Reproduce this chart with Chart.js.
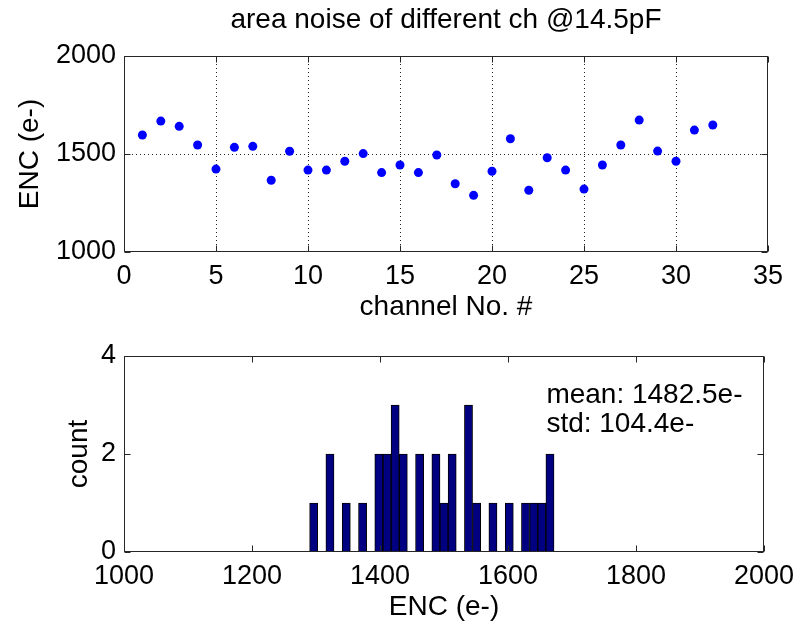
<!DOCTYPE html>
<html>
<head>
<meta charset="utf-8">
<script src="https://cdn.jsdelivr.net/npm/chart.js@4.4.1/dist/chart.umd.min.js"></script>
<style>
  body { margin: 0; background: #fff; }
  #wrap { position: relative; width: 802px; height: 621px; }
  canvas { position: absolute; left: 0; }
</style>
</head>
<body>
<div id="wrap">
  <canvas id="scatterChart" width="802" height="330" style="top:0"></canvas>
  <canvas id="histChart" width="802" height="291" style="top:330px"></canvas>
</div>
<script>
// top plot: noise per channel
const channels = [1, 2, 3, 4, 5, 6, 7, 8, 9, 10, 11, 12, 13, 14, 15, 16,
                  17, 18, 19, 20, 21, 22, 23, 24, 25, 26, 27, 28, 29, 30, 31, 32];
const encValues = [1597, 1668, 1641, 1546, 1423, 1534, 1539, 1366, 1514, 1418, 1418, 1463, 1502, 1405, 1444, 1405,
                   1495, 1348, 1289, 1412, 1578, 1315, 1481, 1418, 1321, 1444, 1546, 1673, 1515, 1463, 1622, 1648];

// bottom plot: histogram (30 bins)
const binCenters = [1296.4, 1309.1, 1321.8, 1334.6, 1347.3, 1360.0, 1372.8, 1385.5, 1398.2, 1411.0,
                    1423.7, 1436.4, 1449.2, 1461.9, 1474.6, 1487.4, 1500.1, 1512.8, 1525.6, 1538.3,
                    1551.0, 1563.8, 1576.5, 1589.2, 1602.0, 1614.7, 1627.4, 1640.2, 1652.9, 1665.6];
const binCounts = [1, 0, 2, 0, 1, 0, 1, 0, 2, 2, 3, 2, 0, 2, 0, 2, 1, 2, 0, 3, 1, 0, 1, 0, 1, 0, 1, 1, 1, 2];

const titleText = 'area noise of different ch @14.5pF';
const statLines = ['mean: 1482.5e-', 'std: 104.4e-'];
const statX = 1660;
const statY = [3.04, 2.45];

const FONT = "'Liberation Sans', Arial, sans-serif";
const tickFont = { family: FONT, size: 27 };
const labelFont = { family: FONT, size: 28, lineHeight: 1 };
const plain = v => String(v); // no thousands separator

// dotted grid, but leave the outer edges to the solid frame
const innerGrid = ctx => {
  const s = ctx.scale, v = ctx.tick && ctx.tick.value;
  return (v === s.min || v === s.max) ? 'rgba(0,0,0,0)' : 'rgba(0,0,0,0.85)';
};

// box around the axes + MATLAB style inward tick marks
const frame = {
  id: 'frame',
  afterDatasetsDraw(chart) {
    const { ctx, chartArea: a, scales: { x, y } } = chart;
    const L = Math.round(a.left) + 0.5, R = Math.round(a.right) - 0.5;
    const T = Math.round(a.top) + 0.5, B = Math.round(a.bottom) - 0.5;
    ctx.save();
    ctx.setLineDash([]);
    ctx.strokeStyle = '#262626';
    ctx.lineWidth = 1;
    ctx.strokeRect(L, T, R - L, B - T);
    ctx.beginPath();
    x.ticks.forEach(t => {
      const px = Math.round(x.getPixelForValue(t.value)) + 0.5;
      ctx.moveTo(px, B); ctx.lineTo(px, B - 6);
      ctx.moveTo(px, T); ctx.lineTo(px, T + 6);
    });
    y.ticks.forEach(t => {
      const py = Math.round(y.getPixelForValue(t.value)) + 0.5;
      ctx.moveTo(L, py); ctx.lineTo(L + 6, py);
      ctx.moveTo(R, py); ctx.lineTo(R - 6, py);
    });
    ctx.stroke();
    ctx.restore();
  }
};

// title centred over the plot box, like the matlab axes title
const axesTitle = {
  id: 'axesTitle',
  afterDraw(chart) {
    const { ctx, chartArea: a } = chart;
    ctx.save();
    ctx.font = '28px ' + FONT;
    ctx.fillStyle = '#000';
    ctx.textAlign = 'center';
    ctx.textBaseline = 'alphabetic';
    ctx.fillText(titleText, (a.left + a.right) / 2, 28);
    ctx.restore();
  }
};

const statsText = {
  id: 'statsText',
  afterDraw(chart) {
    const { ctx, scales: { x, y } } = chart;
    ctx.save();
    ctx.font = '28px ' + FONT;
    ctx.fillStyle = '#000';
    ctx.textBaseline = 'alphabetic';
    statLines.forEach((s, i) => ctx.fillText(s, x.getPixelForValue(statX), y.getPixelForValue(statY[i])));
    ctx.restore();
  }
};

Chart.defaults.font.family = FONT;
Chart.defaults.color = '#000';

new Chart(document.getElementById('scatterChart'), {
  type: 'scatter',
  data: {
    datasets: [{
      data: channels.map((c, i) => ({ x: c, y: encValues[i] })),
      backgroundColor: '#0000ff',
      borderWidth: 0,
      pointRadius: 4.5
    }]
  },
  options: {
    responsive: false,
    animation: false,
    devicePixelRatio: 1,
    layout: { padding: { left: 0, right: 34, top: 56, bottom: 0 } },
    plugins: { legend: { display: false }, tooltip: { enabled: false } },
    scales: {
      x: {
        type: 'linear', min: 0, max: 35,
        ticks: { stepSize: 5, font: tickFont, padding: 8, maxRotation: 0, callback: plain },
        grid: { color: innerGrid, drawTicks: false },
        border: { display: false, dash: [1, 3] },
        title: { display: true, text: 'channel No. #', font: labelFont, padding: { top: 0, bottom: 9 } },
        afterFit(s) { s.height = 78; }
      },
      y: {
        min: 1000, max: 2000,
        ticks: { stepSize: 500, font: tickFont, padding: 8, callback: plain },
        grid: { color: innerGrid, drawTicks: false },
        border: { display: false, dash: [1, 3] },
        title: { display: true, text: 'ENC (e-)', font: labelFont, padding: { top: 16, bottom: 0 } },
        afterFit(s) { s.width = 124; }
      }
    }
  },
  plugins: [frame, axesTitle]
});

new Chart(document.getElementById('histChart'), {
  type: 'bar',
  data: {
    datasets: [{
      data: binCenters.map((c, i) => ({ x: c, y: binCounts[i] })),
      backgroundColor: '#000080',
      borderColor: '#000',
      borderWidth: 1,
      borderSkipped: false,
      barPercentage: 1,
      categoryPercentage: 1
    }]
  },
  options: {
    responsive: false,
    animation: false,
    devicePixelRatio: 1,
    layout: { padding: { left: 0, right: 34, top: 26, bottom: 0 } },
    plugins: { legend: { display: false }, tooltip: { enabled: false } },
    scales: {
      x: {
        type: 'linear', min: 1000, max: 2000, offset: false,
        ticks: { stepSize: 200, font: tickFont, padding: 8, maxRotation: 0, callback: plain },
        grid: { display: false, drawTicks: false },
        border: { display: false },
        title: { display: true, text: 'ENC (e-)', font: labelFont, padding: { top: 0, bottom: 0 } },
        afterFit(s) { s.height = 69; }
      },
      y: {
        min: 0, max: 4,
        ticks: { stepSize: 2, font: tickFont, padding: 8, callback: plain },
        grid: { display: false, drawTicks: false },
        border: { display: false },
        title: { display: true, text: 'count', font: labelFont, padding: { top: 65, bottom: 0 } },
        afterFit(s) { s.width = 124; }
      }
    }
  },
  plugins: [frame, statsText]
});
</script>
</body>
</html>
